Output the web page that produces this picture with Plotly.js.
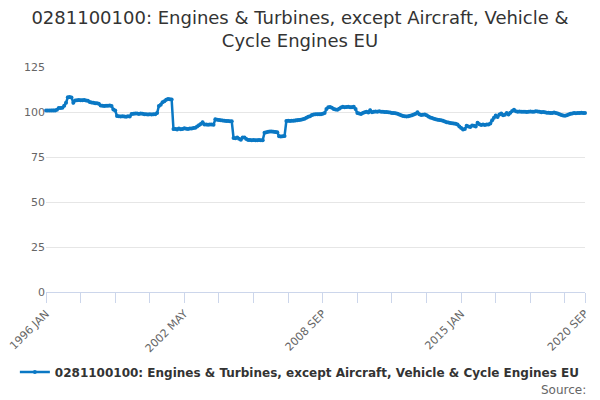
<!DOCTYPE html>
<html>
<head>
<meta charset="utf-8">
<script src="https://cdn.plot.ly/plotly-3.0.1.min.js"></script>
<style>
  html, body { margin: 0; padding: 0; background: #fff; }
  #chart { width: 600px; height: 400px; }
</style>
</head>
<body>
<div id="chart"></div>
<script>
/***********
  DATA
************/

const seriesName = '0281100100: Engines & Turbines, except Aircraft, Vehicle & Cycle Engines EU';
const monthNames = ['JAN','FEB','MAR','APR','MAY','JUN','JUL','AUG','SEP','OCT','NOV','DEC'];
const firstYear = 1996;

// monthly index values, one row per year
const values = [
  100.9,100.9,100.9,100.9,100.9,100.8,101.2,102.2,102.2,102.3,103.5,105.2, // 1996
  108.2,108.3,108.0,105.2,106.4,106.5,106.6,106.5,106.5,106.6,106.4,106.3, // 1997
  105.5,105.3,105.1,104.9,104.8,104.6,103.6,103.5,103.4,103.5,103.5,103.6, // 1998
  103.3,101.4,100.8,97.8,97.6,97.5,97.6,97.5,97.4,97.6,97.5,98.9,          // 1999
  99.0,99.1,99.1,98.9,99.2,99.0,98.8,98.7,98.6,98.8,98.6,98.8,             // 2000
  98.7,99.4,103.3,104.0,105.4,106.0,106.8,107.2,107.1,106.9,90.5,90.6,     // 2001
  90.3,90.8,90.4,90.6,91.0,90.7,90.6,90.8,90.9,91.1,91.3,92.0,             // 2002
  92.6,93.3,94.3,93.0,93.1,92.9,93.0,93.1,92.9,96.0,95.7,95.5,             // 2003
  95.4,95.3,95.2,95.0,95.0,94.9,94.8,85.6,85.4,85.9,85.1,84.6,             // 2004
  85.8,85.9,85.0,84.5,84.4,84.3,84.4,84.3,84.3,84.4,84.3,84.3,             // 2005
  88.5,88.8,89.0,89.1,89.2,89.0,88.9,88.8,86.5,86.4,86.5,86.6,             // 2006
  95.0,95.1,95.0,95.1,95.2,95.3,95.4,95.5,95.7,96.0,96.3,96.8,             // 2007
  97.3,97.7,98.3,98.6,98.7,98.8,98.8,98.7,99.0,99.4,101.6,102.6,           // 2008
  102.8,102.3,101.7,101.4,101.3,101.8,102.5,102.9,102.7,102.8,102.9,102.6, // 2009
  102.7,102.9,101.6,99.4,99.2,98.9,99.5,99.8,100.1,99.7,101.0,99.9,        // 2010
  100.1,100.3,100.2,100.4,100.2,100.1,100.0,100.0,99.8,99.7,99.5,99.4,     // 2011
  99.3,99.0,98.6,98.2,97.8,97.6,97.5,97.7,97.9,98.2,98.6,99.0,             // 2012
  99.8,98.8,98.3,98.5,98.6,98.2,97.5,96.9,96.6,96.3,96.0,95.7,             // 2013
  95.6,95.4,95.2,94.7,94.3,94.1,93.9,93.8,93.6,93.5,93.0,92.0,             // 2014
  91.1,90.3,90.6,92.3,92.0,91.6,92.5,92.4,92.0,94.0,93.2,92.8,             // 2015
  93.0,92.8,93.1,93.0,93.6,95.4,96.8,98.0,97.2,98.6,99.1,98.2,             // 2016
  98.5,99.4,98.6,99.6,100.5,101.2,100.4,100.2,100.3,100.1,100.2,100.1,     // 2017
  100.0,100.2,100.3,100.1,100.2,100.4,100.3,100.1,99.9,100.0,99.8,99.6,    // 2018
  99.6,99.4,99.5,99.7,99.5,99.2,98.8,98.3,98.0,97.9,98.2,98.6,             // 2019
  99.0,99.2,99.4,99.3,99.5,99.4,99.6,99.4,99.5                             // 2020
];

const yTicks = [0, 25, 50, 75, 100, 125];

/***********
  BUILD
************/

// category labels, e.g. "1996 JAN"
const categories = values.map(function (v, i) {
  return (firstYear + Math.floor(i / 12)) + ' ' + monthNames[i % 12];
});

// tick marks every 19 months, a label on every 4th one and on the last month
const tickStep = 19;
const tickVals = [];
const tickText = [];
for (let i = 0; i < categories.length; i += tickStep) {
  tickVals.push(categories[i]);
  tickText.push(i % (tickStep * 4) === 0 ? categories[i] : '');
}
tickVals.push(categories[categories.length - 1]);
tickText.push(categories[categories.length - 1]);

const trace = {
  x: categories,
  y: values,
  name: seriesName,
  type: 'scatter',
  mode: 'lines+markers',
  line: { color: '#0a78c4', width: 2.5 },
  marker: { color: '#0a78c4', size: 4 },
  cliponaxis: false
};

const layout = {
  width: 600,
  height: 400,
  margin: { l: 46, r: 15, t: 67, b: 108 },
  paper_bgcolor: '#ffffff',
  plot_bgcolor: '#ffffff',
  font: { family: 'DejaVu Sans, sans-serif', color: '#666666' },
  title: {
    text: '0281100100: Engines & Turbines, except Aircraft, Vehicle &<br>Cycle Engines EU',
    font: { size: 18, color: '#333333', family: 'DejaVu Sans, sans-serif' },
    x: 0.5,
    xanchor: 'center',
    xref: 'container',
    y: 0.94,
    yanchor: 'middle',
    automargin: false
  },
  xaxis: {
    type: 'category',
    range: [0, categories.length - 1],
    tickmode: 'array',
    tickvals: tickVals,
    ticktext: tickText,
    tickangle: -45,
    ticks: 'outside',
    ticklen: 10,
    tickcolor: '#ccd6eb',
    tickfont: { size: 11, color: '#666666' },
    showgrid: false,
    showline: true,
    linecolor: '#ccd6eb',
    linewidth: 1,
    zeroline: false,
    fixedrange: true
  },
  yaxis: {
    range: [0, 125],
    tickmode: 'array',
    tickvals: yTicks,
    ticks: '',
    tickfont: { size: 11, color: '#666666' },
    showgrid: true,
    gridcolor: '#e6e6e6',
    gridwidth: 1,
    zeroline: false,
    showline: false,
    fixedrange: true
  },
  showlegend: true,
  legend: {
    orientation: 'h',
    x: 0.471,
    xanchor: 'center',
    y: -0.356,
    yanchor: 'middle',
    font: { size: 12, color: '#333333', family: 'DejaVu Sans, sans-serif', weight: 'bold' },
    itemwidth: 30
  },
  annotations: [{
    text: 'Source:',
    xref: 'paper',
    yref: 'paper',
    x: 1.006,
    y: -0.436,
    xanchor: 'right',
    yanchor: 'middle',
    showarrow: false,
    font: { size: 12, color: '#666666', family: 'DejaVu Sans, sans-serif' }
  }]
};

Plotly.newPlot('chart', [trace], layout, { displayModeBar: false, staticPlot: true });
</script>
</body>
</html>
